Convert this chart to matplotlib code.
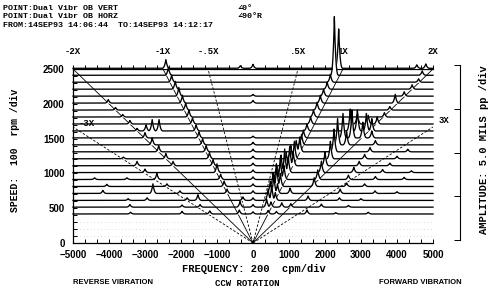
import numpy as np
import matplotlib
matplotlib.use("Agg")
import matplotlib.pyplot as plt
from matplotlib.ticker import MultipleLocator


# =====================================================
# Data
# =====================================================

# machine speed of each spectrum (rpm), bottom to top
speeds = [417, 515, 612, 712, 812, 912, 1012, 1110, 1210, 1310, 1410,
          1510, 1610, 1710, 1810, 1910, 2010, 2110, 2210, 2310, 2410, 2510]

# peaks of each spectrum: (frequency cpm, amplitude mils pp)
peaks = [
    [(-3400, 0.2), (-1970, 0.3), (-1200, 0.35), (-380, 0.45), (0, 0.25), (420, 0.4), (650, 0.3), (1500, 0.45), (2300, 0.15), (3200, 0.2)],
    [(-3420, 0.3), (-1970, 0.25), (-1470, 0.3), (-360, 0.65), (0, 0.3), (380, 0.9), (500, 0.6), (800, 0.5), (1050, 0.4), (1900, 0.35), (2650, 0.2)],
    [(-3470, 0.2), (-2940, 0.3), (-1830, 0.3), (-1530, 0.65), (-280, 0.4), (0, 0.3), (420, 1.3), (520, 1.7), (620, 0.9), (1530, 0.5), (2400, 0.3), (3000, 0.2)],
    [(-4170, 0.35), (-2780, 1.1), (-2030, 0.3), (-720, 0.5), (0, 0.3), (480, 1.4), (580, 2.1), (680, 1.1), (1030, 0.6), (2420, 0.5), (3390, 0.3), (4000, 0.2)],
    [(-4060, 0.25), (-2390, 0.3), (-800, 0.6), (0, 0.3), (560, 1.6), (660, 2.3), (760, 1.5), (1700, 1.0), (2600, 0.4), (3100, 0.3)],
    [(-4400, 0.2), (-3500, 0.2), (-2670, 0.7), (-900, 0.6), (0, 0.3), (650, 1.8), (760, 2.5), (860, 1.6), (1800, 1.1), (2650, 0.5), (3400, 0.35), (4200, 0.25)],
    [(-3000, 0.4), (-1000, 1.0), (0, 0.3), (780, 2.0), (880, 2.7), (980, 1.8), (1900, 1.3), (2800, 0.6), (3600, 0.35), (4400, 0.2)],
    [(-3220, 0.5), (-2220, 0.5), (-1110, 0.7), (0, 0.3), (920, 1.6), (1020, 2.2), (1120, 1.5), (2000, 1.6), (2950, 0.5), (3800, 0.3)],
    [(-3600, 0.2), (-2420, 0.6), (-1210, 0.7), (0, 0.3), (1050, 1.5), (1150, 2.0), (2150, 2.0), (3100, 0.5), (4000, 0.3)],
    [(-2620, 0.7), (-1300, 0.7), (0, 0.3), (1200, 1.3), (1300, 1.7), (2250, 2.6), (3250, 0.5), (4300, 0.3)],
    [(-2800, 0.8), (-1400, 0.7), (0, 0.3), (1350, 1.2), (2350, 3.0), (2600, 1.5), (3400, 0.5)],
    [(-3000, 0.6), (-1500, 0.7), (0, 0.2), (1400, 0.9), (2500, 2.8), (2750, 3.2), (3050, 1.8), (3300, 0.8)],
    [(-3220, 0.3), (-2970, 0.7), (-2800, 1.3), (-2610, 1.3), (-1580, 0.7), (1500, 0.8), (2700, 2.5), (2900, 2.4), (3150, 2.0), (3300, 1.4)],
    [(-3420, 0.4), (-1680, 0.7), (1600, 0.8), (2900, 1.2), (3200, 1.0), (3450, 0.8)],
    [(-3620, 0.3), (-1780, 0.8), (1680, 0.8), (3650, 0.5)],
    [(-3820, 0.3), (-1870, 0.8), (1780, 0.9), (3800, 0.4)],
    [(-4020, 0.4), (-1960, 0.9), (0, 0.3), (1870, 0.9), (3950, 1.0)],
    [(-2060, 1.0), (0, 0.2), (1960, 0.8), (4200, 0.5)],
    [(-2160, 0.9), (2060, 0.8), (4420, 0.5)],
    [(-2260, 0.8), (2150, 0.9), (4600, 0.4)],
    [(-2350, 0.9), (2260, 6.7), (4700, 0.5)],
    [(-2420, 1.0), (-350, 0.3), (0, 0.45), (2380, 4.5), (4550, 0.4), (4800, 0.5)],
]

# order lines through the origin
orders = [-3, -2, -1, -0.5, 0.5, 1, 2, 3]
order_labels = ["-3X", "-2X", "-1X", "-.5X", ".5X", "1X", "2X", "3X"]
order_styles = ["--", "-", "-", "--", "--", "-", "-", "--"]


# =====================================================
# Figure
# =====================================================

W, H = 489, 293
fig = plt.figure(figsize=(W / 100, H / 100), dpi=100)

# axes box in pixels: x 73..433, y(0 rpm)=243, y(2500 rpm)=69
ax = fig.add_axes([73 / W, (H - 243) / H, 360 / W, 174 / H])
ax.set_xlim(-5000, 5000)
ax.set_ylim(0, 2500)

rpm_per_px = 2500 / 174
mil_px = 8.75                       # 5 mils per 43.75 px on the amplitude scale
mil_to_rpm = mil_px * rpm_per_px

mono = ["Liberation Mono", "DejaVu Sans Mono"]
sans = ["Liberation Sans", "DejaVu Sans"]

# order lines
for k, ls in zip(orders, order_styles):
    top = min(2500, 5000 / abs(k))
    if ls == "--":
        ax.plot([0, k * top], [0, top], color="black", lw=0.6, ls=(0, (3, 2)), zorder=1)
    else:
        ax.plot([0, k * top], [0, top], color="black", lw=0.6, zorder=1)

# spectra, drawn from the top down so the lower ones hide the upper ones
freq = np.linspace(-5000, 5000, 2001)
width = 120
for i in range(len(speeds) - 1, -1, -1):
    amp = np.zeros_like(freq)
    for f0, a in peaks[i]:
        shape = np.clip(1 - np.abs(freq - f0) / width, 0, None) ** 3
        amp = np.maximum(amp, a * shape)
    base = speeds[i]
    y = base + amp * mil_to_rpm
    z = 10 + (len(speeds) - i)
    ax.fill_between(freq, base, y, color="white", lw=0, zorder=z, clip_on=False)
    ax.plot(freq, y, color="black", lw=0.95, zorder=z + 0.5, clip_on=False)

# order labels
for k, lab in zip(orders, order_labels):
    if abs(k) <= 2:
        ax.text(k * 2500, 2745, lab, ha="center", va="center", fontsize=6.5,
                family=mono, weight="bold")
ax.text(-4620, 1720, "-3X", ha="center", va="center", fontsize=6.5,
        family=mono, weight="bold", zorder=40)
ax.text(5300, 1760, "3X", ha="center", va="center", fontsize=6.5,
        family=mono, weight="bold")

# faint dotted grid in the empty band
for r in [100, 200, 300]:
    ax.axhline(r, color="#bbbbbb", lw=0.5, ls=(0, (1, 4)), zorder=0)

# axes styling
ax.spines["right"].set_visible(False)
for s in ["left", "bottom", "top"]:
    ax.spines[s].set_linewidth(0.9)
ax.xaxis.set_major_locator(MultipleLocator(1000))
ax.xaxis.set_minor_locator(MultipleLocator(1000 / 3))
ax.yaxis.set_major_locator(MultipleLocator(500))
ax.yaxis.set_minor_locator(MultipleLocator(100))
ax.tick_params(axis="x", which="both", direction="in", length=3, width=0.7, pad=5)
ax.tick_params(axis="y", which="both", direction="in", length=3, width=0.7, pad=6)
for lab in ax.get_xticklabels() + ax.get_yticklabels():
    lab.set_family(sans)
    lab.set_fontweight("bold")
    lab.set_fontsize(7)

# ticks standing up on the top edge
top_ax = ax.secondary_xaxis("top")
top_ax.xaxis.set_major_locator(MultipleLocator(1000))
top_ax.xaxis.set_minor_locator(MultipleLocator(1000 / 3))
top_ax.tick_params(which="both", direction="out", length=3, width=0.7, labeltop=False)
top_ax.spines["top"].set_visible(False)

# amplitude scale on the right
amp_ax = fig.add_axes([460 / W, (H - 240) / H, 0.001, 175 / H])
amp_ax.set_ylim(0, 20)
amp_ax.set_xlim(0, 1)
for s in ["top", "bottom", "right"]:
    amp_ax.spines[s].set_visible(False)
amp_ax.spines["left"].set_linewidth(0.8)
amp_ax.set_xticks([])
amp_ax.set_yticks([0, 5, 10, 15, 20])
amp_ax.set_yticklabels([])
amp_ax.tick_params(axis="y", direction="out", length=4, width=0.7)

# header
hdr = dict(fontsize=6, family=mono, weight="bold", va="baseline")
fig.text(3 / W, 1 - 10 / H, "POINT:Dual Vibr OB VERT", **hdr)
fig.text(3 / W, 1 - 18 / H, "POINT:Dual Vibr OB HORZ", **hdr)
fig.text(3 / W, 1 - 27 / H, "FROM:14SEP93 14:06:44  TO:14SEP93 14:12:17", **hdr)
fig.text(238 / W, 1 - 10 / H, "\u22200\u00b0", **hdr)
fig.text(238 / W, 1 - 18 / H, "\u222090\u00b0R", **hdr)

# axis titles
fig.text(15 / W, 1 - 150 / H, "SPEED:  100  rpm /div", rotation=90, ha="center",
         va="center", fontsize=7, family=mono, weight="bold")
fig.text(484 / W, 1 - 150 / H, "AMPLITUDE: 5.0 MILS pp /div", rotation=90, ha="center",
         va="center", fontsize=7.5, family=mono, weight="bold")
fig.text(254 / W, 1 - 269 / H, "FREQUENCY: 200  cpm/div", ha="center", va="center",
         fontsize=7.5, family=mono, weight="bold")
fig.text(247 / W, 1 - 284 / H, "CCW ROTATION", ha="center", va="center",
         fontsize=6.5, family=mono, weight="bold")
fig.text(113 / W, 1 - 282 / H, "REVERSE VIBRATION", ha="center", va="center",
         fontsize=5.5, family=sans, weight="bold")
fig.text(420 / W, 1 - 282 / H, "FORWARD VIBRATION", ha="center", va="center",
         fontsize=5.5, family=sans, weight="bold")

fig.savefig("out.png", dpi=100)
plt.close(fig)
